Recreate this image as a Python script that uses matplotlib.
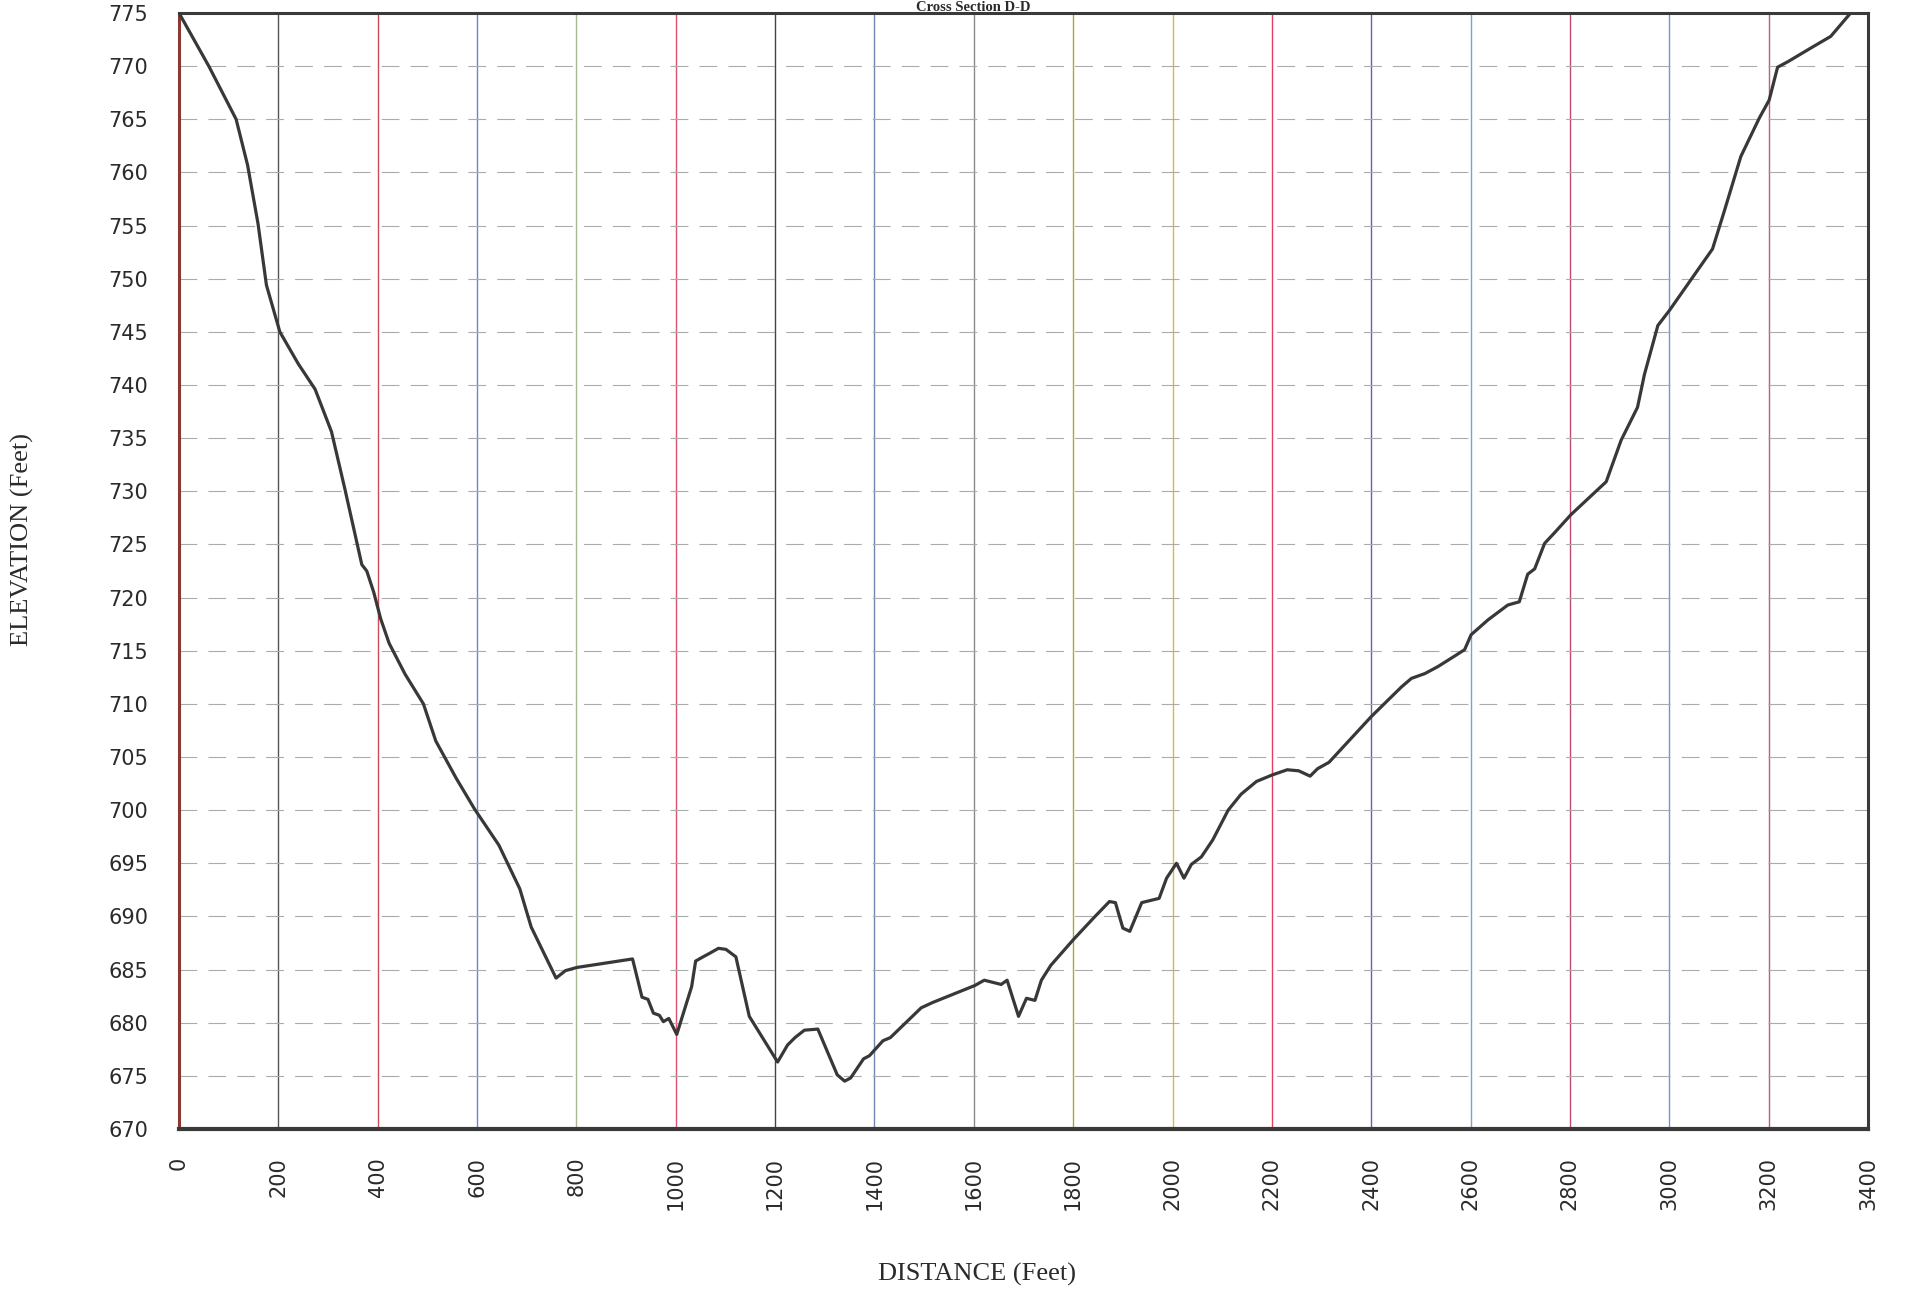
import matplotlib
matplotlib.use("Agg")
import matplotlib.pyplot as plt

# ---- data (read from the scanned cross section) ----
distance_ft = [0, 60, 115, 138, 159, 176, 203, 240, 274, 307, 334, 368, 378, 392,
               406, 423, 455, 492, 517, 558, 595, 644, 686, 709, 735, 759, 778, 801,
               913, 932, 944, 955, 967, 975, 986, 1002, 1032, 1040, 1055, 1067, 1086,
               1101, 1121, 1148, 1205, 1225, 1240, 1259, 1286, 1305, 1325, 1340, 1352,
               1378, 1390, 1417, 1432, 1494, 1517, 1602, 1621, 1655, 1667, 1690, 1706,
               1723, 1736, 1755, 1800, 1842, 1873, 1885, 1900, 1914, 1938, 1973, 1988,
               2008, 2023, 2038, 2058, 2081, 2112, 2138, 2169, 2200, 2231, 2254, 2277,
               2292, 2315, 2400, 2461, 2481, 2508, 2534, 2568, 2588, 2601, 2635, 2675,
               2698, 2715, 2729, 2749, 2769, 2802, 2873, 2903, 2936, 2950, 2977, 3000,
               3087, 3111, 3144, 3181, 3201, 3218, 3238, 3292, 3325, 3365]
elevation_ft = [775.0, 770.0, 765.0, 760.7, 755.2, 749.4, 745.0, 742.0, 739.6, 735.6,
                730.2, 723.1, 722.5, 720.5, 718.0, 715.7, 712.8, 710.0, 706.5, 703.0,
                700.1, 696.7, 692.6, 689.0, 686.5, 684.2, 684.9, 685.2, 686.0, 682.4,
                682.2, 680.9, 680.7, 680.1, 680.4, 678.9, 683.4, 685.8, 686.2, 686.5,
                687.0, 686.9, 686.2, 680.6, 676.3, 677.9, 678.6, 679.3, 679.4, 677.3,
                675.1, 674.5, 674.8, 676.6, 676.9, 678.3, 678.6, 681.4, 681.9, 683.5,
                684.0, 683.6, 684.0, 680.6, 682.3, 682.1, 684.0, 685.4, 687.8, 689.9,
                691.4, 691.3, 688.9, 688.6, 691.3, 691.7, 693.6, 695.0, 693.6, 694.9,
                695.6, 697.2, 700.0, 701.5, 702.7, 703.3, 703.8, 703.7, 703.2, 703.9,
                704.5, 708.8, 711.6, 712.4, 712.85, 713.5, 714.5, 715.1, 716.5, 717.9,
                719.3, 719.6, 722.2, 722.7, 725.1, 726.1, 727.8, 730.9, 734.8, 737.9,
                741.0, 745.6, 747.0, 752.8, 756.4, 761.5, 765.1, 766.8, 769.9, 770.4,
                771.9, 772.8, 775.0]

x_ticks = list(range(0, 3401, 200))
y_ticks = list(range(670, 776, 5))
x_tick_labels = [str(v) for v in x_ticks]
y_tick_labels = [str(v) for v in y_ticks]

title = "Cross Section D-D"
x_label = "DISTANCE (Feet)"
y_label = "ELEVATION (Feet)"

# scanned vertical grid line colours (one per x tick, 0..3400)
vgrid_colors = ["#b04040", "#555555", "#d04a5a", "#6a86cc", "#a8b890", "#de5070",
                "#444444", "#7088b0", "#8a8a8a", "#a8a838", "#e0b840", "#e04060",
                "#6a60b0", "#78a4d4", "#c04a78", "#6a98d4", "#c05a88", "#444444"]

# ---- figure ----
W, H = 1906, 1294
fig = plt.figure(figsize=(W / 100, H / 100), dpi=100)
ax = fig.add_axes([179 / W, 1 - 1129 / H, (1868 - 179) / W, (1129 - 13) / H])

ax.set_xlim(0, 3400)
ax.set_ylim(670, 775)

# horizontal dashed grid
ax.set_yticks(y_ticks)
ax.set_yticklabels(y_tick_labels)
ax.yaxis.grid(True, color="#ababab", linestyle=(0, (16, 10)), linewidth=0.8)

# coloured vertical grid lines at each x tick
for xv, col in zip(x_ticks[1:-1], vgrid_colors[1:-1]):
    ax.axvline(xv, color=col, linewidth=1.0, zorder=1)

ax.plot(distance_ft, elevation_ft, color="#383838", linewidth=2.3,
        solid_joinstyle="round", zorder=3)

ax.set_xticks(x_ticks)
ax.set_xticklabels(x_tick_labels, rotation=90)

ax.tick_params(axis="y", length=0, pad=22, labelsize=15, labelcolor="#2a2a2a")
ax.tick_params(axis="x", length=0, pad=20, labelsize=15, labelcolor="#2a2a2a")
for lab in ax.get_xticklabels() + ax.get_yticklabels():
    lab.set_family("DejaVu Sans")

for side in ["top", "bottom", "right"]:
    ax.spines[side].set_color("#3a3a3a")
    ax.spines[side].set_linewidth(2.2)
ax.spines["bottom"].set_linewidth(3.0)
ax.spines["left"].set_color("#8a3a30")
ax.spines["left"].set_linewidth(2.2)

fig.text(977 / W, 1 - 1274 / H, x_label, family="Liberation Serif",
         fontsize=19, ha="center", va="center", color="#2a2a2a")
fig.text(22 / W, 1 - 540 / H, y_label, family="Liberation Serif",
         fontsize=19, ha="center", va="center", rotation=90, color="#2a2a2a")
fig.text(973 / W, 1 - 11 / H, title, family="Liberation Serif", fontweight="bold",
         fontsize=10.5, ha="center", va="baseline", color="#2a2a2a")

fig.savefig("out.png", dpi=100, facecolor="white")
